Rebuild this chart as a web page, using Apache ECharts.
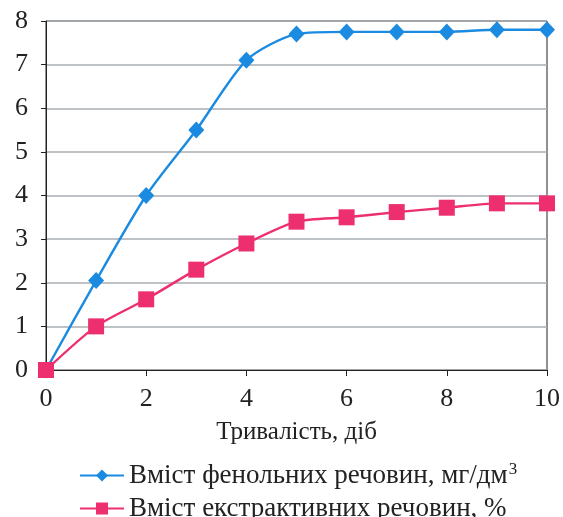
<!DOCTYPE html>
<html>
<head>
<meta charset="utf-8">
<script src="https://cdn.jsdelivr.net/npm/echarts@6/dist/echarts.min.js"></script>
<style>
  html, body { margin: 0; padding: 0; background: #fff; }
  #chart { width: 563px; height: 517px; }
</style>
</head>
<body>
<div id="chart"></div>
<script>
// тривалість, діб
const days = [0, 1, 2, 3, 4, 5, 6, 7, 8, 9, 10];
// вміст фенольних речовин, мг/дм3
const phenolic = [0, 2.05, 4.0, 5.5, 7.1, 7.7, 7.75, 7.75, 7.75, 7.8, 7.8];
// вміст екстрактивних речовин, %
const extractive = [0, 1.0, 1.62, 2.3, 2.9, 3.4, 3.5, 3.62, 3.72, 3.82, 3.82];

const seriesNames = ['Вміст фенольних речовин, мг/дм3', 'Вміст екстрактивних речовин, %'];

const font = 'Liberation Serif';
const chart = echarts.init(document.getElementById('chart'));

const legendText = {
  fontFamily: font, fontSize: 27, color: '#222',
  rich: {
    t: { fontFamily: font, fontSize: 27, color: '#222' },
    s: { fontFamily: font, fontSize: 17, color: '#222', verticalAlign: 'top', padding: [0, 0, 12, 1] }
  }
};
const legendFormatter = function (name) {
  if (name === seriesNames[0]) return '{t|Вміст фенольних речовин, мг/дм}{s|3}';
  return '{t|' + name + '}';
};

chart.setOption({
  animation: false,
  grid: {
    left: 46, right: 16, top: 21, bottom: 147,
    show: true, borderColor: '#222', borderWidth: 1
  },
  xAxis: {
    type: 'value',
    min: 0, max: 10, interval: 2,
    name: 'Тривалість, діб',
    nameLocation: 'middle',
    nameGap: 50,
    nameTextStyle: { fontFamily: font, fontSize: 25, color: '#222' },
    axisLine: { lineStyle: { color: '#222' } },
    axisTick: { show: true, length: 6, lineStyle: { color: '#222' } },
    axisLabel: { fontFamily: font, fontSize: 26, color: '#222', margin: 16 },
    splitLine: { show: false }
  },
  yAxis: {
    type: 'value',
    min: 0, max: 8, interval: 1,
    axisLine: { show: true, lineStyle: { color: '#222' } },
    axisTick: { show: true, length: 5, lineStyle: { color: '#222' } },
    axisLabel: { fontFamily: font, fontSize: 26, color: '#222', margin: 18 },
    splitLine: { lineStyle: { color: '#a9adb2', width: 1.5 } }
  },
  legend: [
    {
      left: 74, top: 456,
      itemWidth: 44, itemHeight: 15,
      data: [seriesNames[0]],
      formatter: legendFormatter,
      textStyle: legendText
    },
    {
      left: 74, top: 490,
      itemWidth: 44, itemHeight: 15,
      data: [seriesNames[1]],
      formatter: legendFormatter,
      textStyle: legendText
    }
  ],
  series: [
    {
      name: seriesNames[0],
      type: 'line',
      smooth: 0.25,
      data: days.map((d, i) => [d, phenolic[i]]),
      symbol: 'diamond',
      symbolSize: [16, 17],
      lineStyle: { color: '#1a8be0', width: 2.4 },
      itemStyle: { color: '#1a8be0' }
    },
    {
      name: seriesNames[1],
      type: 'line',
      smooth: 0.25,
      data: days.map((d, i) => [d, extractive[i]]),
      symbol: 'rect',
      symbolSize: 16,
      lineStyle: { color: '#ee2f6f', width: 2.4 },
      itemStyle: { color: '#ee2f6f' }
    }
  ]
});
</script>
</body>
</html>
